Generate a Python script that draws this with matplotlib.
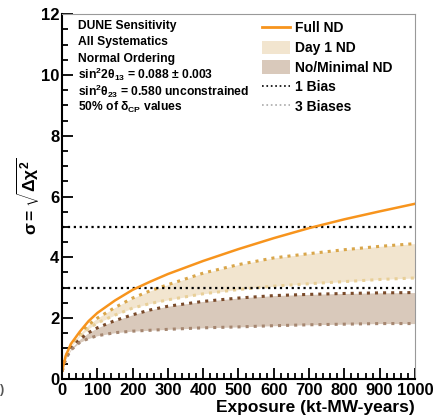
import numpy as np
import matplotlib
matplotlib.use("Agg")
import matplotlib.pyplot as plt
from matplotlib.lines import Line2D
from matplotlib.patches import Patch

plt.rcParams['font.family'] = ['Liberation Sans', 'DejaVu Sans']
plt.rcParams['font.weight'] = 'bold'
plt.rcParams['mathtext.fontset'] = 'custom'
plt.rcParams['mathtext.rm'] = 'Liberation Sans:bold'
plt.rcParams['mathtext.it'] = 'Liberation Sans:bold'
plt.rcParams['mathtext.bf'] = 'Liberation Sans:bold'

# exposure (kt-MW-years)
exposure = [0, 10, 25, 50, 75, 100, 150, 200, 250, 300, 400, 500, 600, 700, 800, 900, 1000]
full_nd = [0.25, 0.75, 1.15, 1.55, 1.9, 2.17, 2.58, 2.93, 3.2, 3.45, 3.88, 4.27, 4.63, 4.96, 5.25, 5.51, 5.76]
day1_1bias = [0.25, 0.72, 1.1, 1.48, 1.78, 2.0, 2.35, 2.66, 2.9, 3.1, 3.48, 3.76, 3.98, 4.12, 4.25, 4.36, 4.45]
day1_3bias = [0.25, 0.7, 1.05, 1.4, 1.65, 1.84, 2.1, 2.33, 2.48, 2.6, 2.8, 2.94, 3.05, 3.13, 3.2, 3.27, 3.32]
nond_1bias = [0.25, 0.68, 1.0, 1.3, 1.52, 1.68, 1.92, 2.11, 2.27, 2.39, 2.55, 2.66, 2.74, 2.78, 2.81, 2.83, 2.84]
nond_3bias = [0.25, 0.65, 0.95, 1.2, 1.33, 1.42, 1.52, 1.57, 1.6, 1.63, 1.68, 1.71, 1.75, 1.78, 1.8, 1.82, 1.82]
sigma_lines = [3, 5]

info_lines = [
    "DUNE Sensitivity",
    "All Systematics",
    "Normal Ordering",
    r"sin$^{2}$2$\theta_{13}$ = 0.088 $\pm$ 0.003",
    r"sin$^{2}\theta_{23}$ = 0.580 unconstrained",
    r"50% of $\delta_{CP}$ values",
]

ORANGE = "#f7941d"
DAY1_FILL = "#f2e5cf"
DAY1_UP = "#d9a64a"
DAY1_LO = "#e8cf98"
NOND_FILL = "#d9c9bb"
NOND_UP = "#7a4a2a"
NOND_LO = "#a58670"

fig = plt.figure(figsize=(4.34, 4.15), dpi=100)
ax = fig.add_axes([0.143, 0.087, 0.813, 0.879])

x = np.array(exposure)
ax.fill_between(x, day1_3bias, day1_1bias, color=DAY1_FILL, lw=0)
ax.fill_between(x, nond_3bias, nond_1bias, color=NOND_FILL, lw=0)
ax.plot(x, day1_1bias, ':', color=DAY1_UP, lw=2.2)
ax.plot(x, day1_3bias, ':', color=DAY1_LO, lw=2.2)
ax.plot(x, nond_1bias, ':', color=NOND_UP, lw=2.2)
ax.plot(x, nond_3bias, ':', color=NOND_LO, lw=2.2)
for s in sigma_lines:
    ax.plot([0, 1000], [s, s], ':', color='black', lw=1.6)
ax.plot(x, full_nd, '-', color=ORANGE, lw=1.8)

ax.set_xlim(0, 1000)
ax.set_ylim(0, 12)
ax.set_xticks(np.arange(0, 1001, 100))
ax.set_xticks(np.arange(0, 1001, 20), minor=True)
ax.set_yticks(np.arange(0, 13, 2))
ax.set_yticks(np.arange(0, 12.1, 0.5), minor=True)
ax.tick_params(which='both', direction='in', labelsize=12, width=1.3)
ax.tick_params(which='major', length=8)
ax.tick_params(which='minor', length=4)
ax.tick_params(axis='x', pad=3)
ax.tick_params(axis='y', pad=2)
for lab in ax.get_xticklabels() + ax.get_yticklabels():
    lab.set_fontweight('bold')
ax.spines['left'].set_linewidth(1.5)
ax.spines['bottom'].set_linewidth(1.5)
ax.spines['top'].set_color('#999999')
ax.spines['right'].set_color('#999999')

ax.set_ylabel(r"$\sigma = \sqrt{\Delta\chi^{2}}$", fontsize=12.5, labelpad=-1)
fig.text(0.956, 0.0, "Exposure (kt-MW-years)", ha='right', va='bottom',
         fontsize=12.5, fontweight='bold')

for i, line in enumerate(info_lines):
    ax.text(0.045, 0.967 - i * 0.0445, line, transform=ax.transAxes,
            fontsize=8.7, fontweight='bold', va='center', ha='left')

handles = [
    Line2D([], [], color=ORANGE, lw=2),
    Patch(facecolor=DAY1_FILL, edgecolor='none'),
    Patch(facecolor=NOND_FILL, edgecolor='none'),
    Line2D([], [], color='black', ls=':', lw=1.2),
    Line2D([], [], color='#aaaaaa', ls=':', lw=1.2),
]
labels = ["Full ND", "Day 1 ND", "No/Minimal ND", "1 Bias", "3 Biases"]
leg = ax.legend(handles, labels, loc='upper left', bbox_to_anchor=(0.548, 1.0),
                frameon=False, fontsize=10, handlelength=2.0, handleheight=1.1,
                handletextpad=0.35, labelspacing=0.38, borderpad=0.0)
for t in leg.get_texts():
    t.set_fontweight('bold')

fig.text(0.0, 0.06, ")", fontsize=9, color='#555555', ha='left', va='center')

fig.savefig("out.png", dpi=100)
